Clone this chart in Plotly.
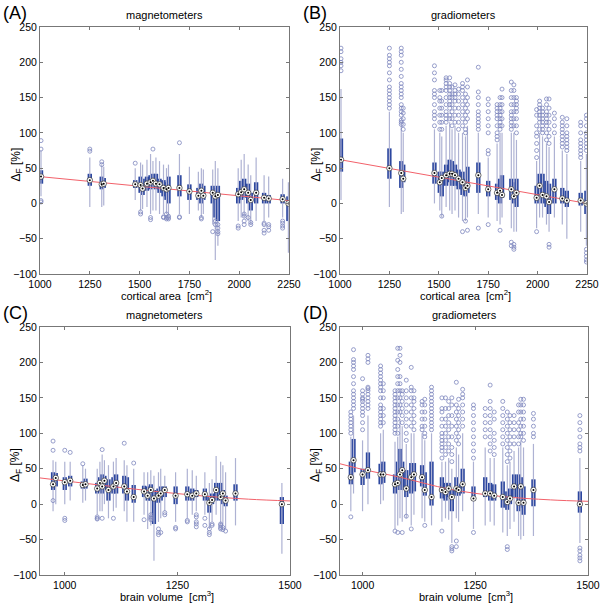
import numpy as np
import plotly.graph_objects as go

# ---------------- data ----------------
# Panels A/B: cortical area positions [cm^2]
area_pos = [1005, 1250, 1310, 1320, 1478, 1505, 1515, 1537, 1555, 1567, 1582, 1600, 1620, 1635, 1645,
            1700, 1750, 1795, 1810, 1820, 1867, 1880, 1893, 1995, 2010, 2025, 2045, 2058, 2085, 2125,
            2148, 2218, 2247]

A_q1 = [28, 25, 20, 22, 22, 15, 12, 18, 20, 22, 20, 15, 10, 5, 0, 10, 5, 5, 0, 5, 0, -20, -25, 0, 5, 8, 0, -10, 0, 0, 0, 0, -25]
A_med = [38, 33, 27, 28, 27, 26, 21, 28, 30, 32, 28, 27, 22, 20, 22, 22, 17, 11, 18, 11, 15, 10, 12, 13, 16, 20, 15, 5, 15, 8, 7, 6, 0]
A_q3 = [47, 42, 38, 36, 33, 38, 35, 38, 40, 42, 42, 35, 33, 30, 38, 40, 27, 22, 28, 25, 25, 22, 25, 22, 32, 35, 28, 15, 30, 15, 12, 13, 10]
A_lo = [10, -5, -5, -3, 5, -10, -8, -5, -15, -10, -10, -15, -15, -15, -15, -15, -15, -10, -20, -15, -30, -80, -60, -25, -20, -20, -25, -30, -25, -25, -20, -20, -70]
A_hi = [75, 65, 55, 52, 50, 58, 55, 62, 70, 60, 65, 60, 55, 50, 55, 70, 52, 45, 50, 48, 48, 60, 50, 50, 62, 70, 55, 40, 65, 40, 38, 35, 30]
A_out = [[89, 77, 4, 2], [77, 74], [59, 55], [], [57], [-12, -15], [], [], [-20, -23], [77], [], [],
         [-20, -19], [-20, -22, -15], [-20, -22, -18], [86, -19, -20], [], [], [-20, -22], [],
         [-40], [-25, -30], [-30, -35, -40, -43], [-32, -35], [], [-15, -18, -25, -30], [-20],
         [-30, -27], [], [-28, -30, -38, -42], [-30, -33, -38], [-25, -28, -32, -35], []]

B_q1 = [45, 35, 22, 30, 28, 15, 10, 25, 30, 25, 25, 20, 12, 10, 15, 15, 10, 5, 0, 8, 5, 0, -5, 0, 10, 0, -5, -15, 0, 0, -5, -3, -15]
B_med = [62, 50, 43, 35, 43, 30, 36, 40, 42, 42, 40, 35, 30, 22, 25, 40, 20, 15, 18, 12, 20, 10, 15, 8, 25, 12, 10, 2, 20, 7, 4, 4, 0]
B_q3 = [92, 78, 60, 55, 58, 45, 45, 55, 62, 60, 55, 48, 45, 35, 52, 58, 32, 28, 35, 40, 35, 30, 35, 25, 42, 42, 32, 28, 35, 22, 18, 15, 18]
B_lo = [5, -5, -15, -12, 0, -10, -20, -5, -10, -15, -10, -20, -25, -25, -20, -15, -20, -25, -30, -20, -35, -40, -40, -35, -20, -20, -30, -40, -20, -30, -50, -40, -60]
B_hi = [162, 130, 110, 100, 105, 100, 95, 110, 115, 105, 110, 100, 100, 95, 110, 100, 65, 85, 100, 100, 100, 100, 90, 60, 100, 95, 85, 80, 95, 75, 70, 60, 70]
B_out = [[188, 195, 200, 205, 215, 220],
         [135, 140, 145, 150, 155, 160, 165, 175, 185, 195, 200, 205, 210, 220],
         [112, 115, 118, 125, 130, 135, 140, 150, 155, 160, 165, 170, 180, 190, 200, 210, 215, 220],
         [105, 112, 120, 128, 135],
         [110, 120, 125, 130, 140, 150, 155, 160, 175, 185, 195],
         [105, 115, 125, 135, 145, 150, 160],
         [-18, 105, 115, 125, 135, 145, 160],
         [115, 120, 125, 130, 140, 150, 160, 165, 170, 175, 178],
         [120, 125, 135, 140, 145, 150, 155, 160, 165, 170, 178],
         [110, 120, 130, 140, 150, 155, 165],
         [115, 125, 135, 145, 150, 155, 160, 168],
         [105, 115, 125, 135, 145, 155, 162],
         [-40, 110, 120, 130, 140, 150, 160, 165, 170],
         [-25, 100, 105, 115, 125, 135, 145, 155],
         [-38, 120, 130, 140, 150, 165, 175],
         [-35, 105, 110, 115, 120, 125, 130, 140, 150, 158, 193],
         [-30, 70, 75, 100, 110, 120, 130, 140, 148],
         [90, 95, 100, 110, 120, 125, 130, 135, 140],
         [-38, 105, 110, 115, 120, 125, 130, 135, 140, 150],
         [110, 120, 130, 140, 150, 162],
         [-55, -60, 105, 110, 115, 120, 125, 130, 140, 150, 160, 172],
         [-58, -62, -65, 110, 120, 130, 140, 150, 160, 168],
         [100, 110, 120, 130, 135, 140, 145, 150],
         [-40, 65, 75, 85, 95, 100, 110, 125, 133],
         [105, 115, 120, 125, 130, 135, 140, 145],
         [100, 105, 110, 115, 120, 125, 130, 135],
         [90, 100, 110, 115, 120, 125, 130, 140, 148],
         [-58, -62, 85, 95, 105, 115, 125, 135, 148],
         [100, 110, 120, 128],
         [80, 85, 90, 95, 100, 105, 110, 115, 122],
         [75, 80, 85, 90, 95, 100, 110, 120],
         [65, 70, 75, 80, 85, 90, 100, 110, 115],
         [-65, -70, -75, -80, -83, 75, 80, 85, 90, 95, 100, 110, 120, 125]]

# Panels C/D: brain volume positions [cm^3]
vol_pos = [974, 980, 1000, 1012, 1040, 1046, 1072, 1078, 1083, 1088, 1097, 1108, 1114, 1132, 1138, 1153,
           1176, 1184, 1191, 1198, 1208, 1213, 1222, 1246, 1272, 1283, 1292, 1311, 1321, 1327, 1336,
           1346, 1351, 1357, 1379, 1482]

C_q1 = [20, 25, 20, 25, 22, 22, 15, 17, 15, 20, 5, 15, 15, 15, 5, 2, 10, 5, 5, -28, 2, 5, 10, 0, 5, 5, 10, 5, -12, 0, 5, 5, 0, -3, 5, -28]
C_med = [28, 37, 31, 33, 27, 28, 22, 30, 25, 33, 20, 25, 30, 25, 18, 10, 18, 12, 20, 8, 12, 15, 20, 12, 14, 12, 15, 14, 2, 6, 20, 10, 15, 5, 15, 0]
C_q3 = [45, 44, 38, 40, 32, 36, 30, 38, 42, 40, 35, 38, 42, 40, 38, 27, 26, 25, 28, 20, 22, 25, 25, 25, 25, 22, 20, 22, 12, 15, 30, 30, 20, 12, 28, 10]
C_lo = [-10, 0, 0, 5, 2, 5, -15, -10, -10, 0, -20, -10, -5, -10, -25, -25, -15, -35, -30, -80, -25, -20, -10, -25, -20, -15, -10, -15, -35, -25, -15, -30, -30, -35, -30, -70]
C_hi = [62, 60, 60, 60, 55, 50, 50, 60, 70, 62, 55, 60, 65, 62, 55, 50, 45, 45, 48, 40, 45, 50, 40, 45, 50, 48, 40, 45, 30, 35, 68, 60, 55, 45, 65, 30]
C_out = [[89, 76, 5], [], [76, -20, -23], [73], [57], [], [-18, -20, -21], [], [77, -20], [], [],
         [-20], [], [86], [], [58], [-22], [], [-15, -18, -20, -22], [], [-35, -40, -43], [-40],
         [-12, -15], [-33, -35], [-23, -25], [], [-15, -18, -25, -28, -32], [-20, -30],
         [-35, -40, -43], [-28, -30], [], [-28, -30, -33, -35], [-33, -36], [-38], [], []]

D_q1 = [28, 45, 27, 36, 28, 30, 15, 20, 25, 20, 10, 15, 18, 25, 12, -2, 8, 5, 10, -10, 12, 12, 15, 5, 10, 5, 5, -5, -8, 0, 10, -10, -5, -15, -3, -12]
D_med = [38, 62, 42, 48, 42, 42, 28, 30, 42, 48, 22, 38, 42, 38, 20, 10, 20, 17, 22, 10, 22, 20, 28, 8, 15, 15, 12, 10, 3, 8, 25, 2, 25, 2, 20, 0]
D_q3 = [60, 92, 50, 73, 57, 60, 42, 60, 78, 60, 48, 58, 58, 55, 45, 60, 38, 30, 30, 20, 38, 28, 50, 25, 38, 30, 28, 32, 18, 22, 42, 42, 38, 25, 35, 18]
D_lo = [-10, 15, -10, 0, 0, 5, -35, -30, -20, -25, -20, -30, -15, -20, -25, -30, -25, -20, -22, -55, -20, -25, -10, -35, -30, -25, -30, -40, -45, -35, -25, -45, -50, -45, -45, -55]
D_hi = [95, 125, 90, 125, 100, 105, 88, 95, 120, 110, 85, 100, 100, 100, 90, 100, 60, 60, 65, 50, 80, 70, 100, 60, 80, 65, 65, 80, 55, 60, 75, 80, 90, 80, 85, 65]
D_out = [[-18, 100, 105, 110, 115, 120, 125, 130],
         [135, 140, 145, 150, 155, 160, 170, 180, 190, 195, 200, 204, 218],
         [105, 115, 125, 130, 135, 140, 145, 148, 150, 155, 160, 177],
         [135, 140, 145, 150, 155, 160, 163, 165, 200, 205, 210],
         [110, 115, 120, 125, 130, 135, 140, 150, 160, 165, 170, 175, 180, 185, 190, 195],
         [115, 125, 135, 150, 160, 170],
         [-38, 100, 105, 110, 115, 120, 125, 130, 135, 140, 145, 150, 155, 160],
         [-40, 100, 110, 120, 130, 140, 150, 160, 170, 180, 190, 203, 220],
         [130, 140, 150, 160, 170, 180, 200, 210, 220],
         [-40, 115, 125, 135, 145, 155, 160],
         [-17, 90, 100, 110, 120, 130, 140, 150, 160, 175],
         [-35, 110, 120, 130, 140, 150, 160, 165, 193],
         [105, 115, 125, 135, 145, 150, 160],
         [105, 110, 120, 130, 140, 145],
         [-30, 95, 100, 110, 120, 130, 140, 148],
         [105, 110, 115, 120, 125, 130, 135, 140, 145, 150, 155, 160, 165],
         [-38, 65, 75, 80, 85, 90, 95, 100, 110, 120, 130, 135, 150],
         [70, 80, 90, 100, 110, 120, 135, 150],
         [75, 85, 95, 105, 115, 125, 135, 145],
         [-60, -63, -66, 60, 70, 80, 95, 110, 125, 140, 150],
         [-52, -60, 90, 100, 110, 120, 130, 140, 172],
         [85, 95, 105, 115, 125, 135, 148],
         [110, 120, 130, 140, 150, 155, 162],
         [-40, 65, 75, 85, 95, 105, 115, 125, 135, 140],
         [95, 105, 115, 125, 135],
         [75, 85, 95, 105, 115, 125, 135, 145, 168],
         [70, 80, 90, 100, 120, 130],
         [85, 95, 105, 115, 125, 135, 145],
         [-60, -64, 60, 70, 80, 90, 100, 110, 120, 130],
         [65, 75, 85, 95, 105, 115, 125],
         [85, 95, 105, 115, 125],
         [85, 95, 105, 115, 130, 140],
         [95, 100, 110, 120, 130, 140, 148],
         [90, 100, 110, 120, 130, 140, 148],
         [95, 100, 110, 120, 128],
         [-62, -66, -72, -76, -80, 75, 80, 85, 95, 105, 115, 125]]

# red fit curves
A_fit_x = [1000, 2250]
A_fit_y = [38, 4]
B_fit_x = [1000, 2250]
B_fit_y = [62, 0]
C_fit_x = [945, 1077, 1187, 1298, 1408, 1500]
C_fit_y = [37, 27, 19, 12, 7, 4.5]
D_fit_x = [950, 1000, 1083, 1194, 1306, 1417, 1500]
D_fit_y = [57, 49, 38, 21, 11, 6, 4]

panel_labels = ["(A)", "(B)", "(C)", "(D)"]
panel_titles = ["magnetometers", "gradiometers", "magnetometers", "gradiometers"]
x_titles = ["cortical area  [cm<sup>2</sup>]", "cortical area  [cm<sup>2</sup>]",
            "brain volume  [cm<sup>3</sup>]", "brain volume  [cm<sup>3</sup>]"]
y_title = "Δ<sub>F</sub> [%]"
area_ticks = [1000, 1250, 1500, 1750, 2000, 2250]
vol_ticks = [1000, 1250, 1500]
y_ticks = [-100, -50, 0, 50, 100, 150, 200, 250]

# ---------------- styling ----------------
W = H = 603
BOX_COL = "#2c479f"
WHISK_COL = "#aeb2d3"
OUT_COL = "#7d87be"
FIT_COL = "#f2616a"
FONT = "Liberation Sans"

def px_x(p):
    return p / W

def px_y(p):
    return 1 - p / H

# plot area boxes in pixels: (left, right, top, bottom)
frames = [(40, 289, 27, 274), (340, 587, 27, 274), (40, 290, 327, 575), (340, 588, 327, 575)]
xranges = [[1000, 2250], [1000, 2250], [945, 1500], [950, 1500]]
box_w = [22, 22, 9.5, 9.5]

panels = [
    (area_pos, A_q1, A_med, A_q3, A_lo, A_hi, A_out, A_fit_x, A_fit_y),
    (area_pos, B_q1, B_med, B_q3, B_lo, B_hi, B_out, B_fit_x, B_fit_y),
    (vol_pos, C_q1, C_med, C_q3, C_lo, C_hi, C_out, C_fit_x, C_fit_y),
    (vol_pos, D_q1, D_med, D_q3, D_lo, D_hi, D_out, D_fit_x, D_fit_y),
]

fig = go.Figure()
layout = dict(width=W, height=H, margin=dict(l=0, r=0, t=0, b=0, pad=0, autoexpand=False),
              paper_bgcolor="white", plot_bgcolor="white", showlegend=False,
              barmode="overlay", font=dict(family=FONT, size=10, color="black"))
annotations = []

for i, (pos, q1, med, q3, lo, hi, outs, fx, fy) in enumerate(panels):
    k = "" if i == 0 else str(i + 1)
    xa, ya = "x" + k, "y" + k
    pos = np.array(pos, float)
    q1 = np.array(q1, float); q3 = np.array(q3, float)
    med = np.array(med, float); lo = np.array(lo, float); hi = np.array(hi, float)

    # whiskers
    wx, wy = [], []
    for p, a, b in zip(pos, lo, hi):
        wx += [p, p, None]
        wy += [a, b, None]
    fig.add_trace(go.Scatter(x=wx, y=wy, mode="lines", line=dict(color=WHISK_COL, width=1.2),
                             xaxis=xa, yaxis=ya, hoverinfo="skip"))
    # outliers
    ox, oy = [], []
    for p, o in zip(pos, outs):
        ox += [p] * len(o)
        oy += list(o)
    fig.add_trace(go.Scatter(x=ox, y=oy, mode="markers",
                             marker=dict(symbol="circle-open", size=4, color=OUT_COL, line=dict(width=0.8)),
                             xaxis=xa, yaxis=ya, hoverinfo="skip"))
    # boxes
    fig.add_trace(go.Bar(x=pos, y=q3 - q1, base=q1, width=box_w[i], marker=dict(color=BOX_COL, line=dict(width=0)),
                         xaxis=xa, yaxis=ya, hoverinfo="skip"))
    # fit line
    fig.add_trace(go.Scatter(x=fx, y=fy, mode="lines", line=dict(color=FIT_COL, width=1, shape="spline"),
                             xaxis=xa, yaxis=ya, hoverinfo="skip"))
    # medians
    fig.add_trace(go.Scatter(x=pos, y=med, mode="markers",
                             marker=dict(symbol="circle", size=5.5, color="white", line=dict(color="#333", width=0.7)),
                             xaxis=xa, yaxis=ya, hoverinfo="skip"))
    fig.add_trace(go.Scatter(x=pos, y=med, mode="markers",
                             marker=dict(symbol="circle", size=2, color="black"),
                             xaxis=xa, yaxis=ya, hoverinfo="skip"))

    l, r, t, b = frames[i]
    axis_common = dict(showline=True, linecolor="#777", linewidth=1, mirror="ticks", ticks="inside",
                       ticklen=3, tickcolor="#777", showgrid=False, zeroline=False, automargin=False,
                       tickfont=dict(family=FONT, size=10.5, color="black"))
    layout["xaxis" + k] = dict(domain=[px_x(l), px_x(r)], range=xranges[i], anchor=ya,
                               tickvals=area_ticks if i < 2 else vol_ticks, **axis_common)
    layout["yaxis" + k] = dict(domain=[px_y(b), px_y(t)], range=[-100, 250], anchor=xa,
                               tickvals=y_ticks, **axis_common)

    cx = (l + r) / 2
    annotations.append(dict(text=panel_titles[i], x=px_x(cx), y=px_y(t - 12), xref="paper", yref="paper",
                            showarrow=False, font=dict(family=FONT, size=11), xanchor="center", yanchor="middle"))
    annotations.append(dict(text=panel_labels[i], x=px_x(l - 39), y=px_y(t - 14), xref="paper", yref="paper",
                            showarrow=False, font=dict(family=FONT, size=18), xanchor="left", yanchor="middle"))
    annotations.append(dict(text=x_titles[i], x=px_x(cx + 2), y=px_y(b + 21), xref="paper", yref="paper",
                            showarrow=False, font=dict(family=FONT, size=11), xanchor="center", yanchor="middle"))
    annotations.append(dict(text=y_title, x=px_x(l - 24), y=px_y((t + b) / 2 + 14), xref="paper", yref="paper",
                            showarrow=False, textangle=-90, font=dict(family=FONT, size=12),
                            xanchor="center", yanchor="middle"))

layout["annotations"] = annotations
fig.update_layout(**layout)
fig.write_html("out.html", config={"displayModeBar": False},
               post_script="document.body.style.margin='0px';document.body.style.overflow='hidden';")
